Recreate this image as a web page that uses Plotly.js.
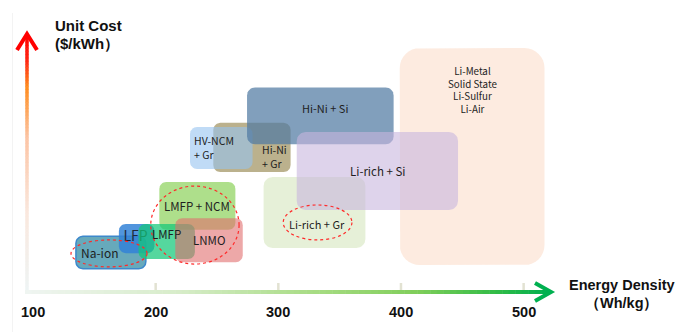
<!DOCTYPE html>
<html><head><meta charset="utf-8">
<script src="https://cdn.plot.ly/plotly-3.0.1.min.js"></script>
<style>html,body{margin:0;padding:0;background:#fff;}#chart{width:682px;height:332px;}</style>
</head><body><div id="chart"></div>
<script>
// ---------------- DATA ----------------
const technologies = ['Li-Metal', 'Li-rich + Gr', 'Hi-Ni + Gr', 'HV-NCM + Gr', 'Hi-Ni + Si', 'Li-rich + Si', 'LMFP + NCM', 'Na-ion', 'LFP', 'LMFP', 'LNMO'];
const densityMin = [399, 288, 247, 228, 274.5, 315, 203, 135, 170, 186, 216];
const densityMax = [517, 371, 310, 279, 394, 446.5, 265, 192, 199, 232, 271];
const costMin = [10.4, 17, 46.3, 47.5, 57, 31.7, 24, 9, 15, 12.7, 11.5];
const costMax = [94.2, 44.4, 65.3, 63.7, 79, 61.8, 42.5, 21.5, 26.3, 26.3, 28.5];

const highlighted = ['Na-ion', 'LMFP + NCM / LNMO', 'Li-rich + Gr'];
const hlDensityMin = [131, 196, 304];
const hlDensityMax = [193, 268, 360];
const hlCostMin = [9.7, 10.8, 20.1];
const hlCostMax = [20.1, 40.9, 33.6];

const tickValues = [100, 200, 300, 400, 500];
const tickLabels = ['100', '200', '300', '400', '500'];
const frontierLines = ['Li-Metal', 'Solid State', 'Li-Sulfur', 'Li-Air'];

// ---------------- STYLE / LAYOUT ----------------
const W = 682, H = 332;
const xr = [73.1, 629.1], yr = [-15.44, 112.74];
const kx = W / (xr[1] - xr[0]), ky = H / (yr[1] - yr[0]);
const fills = {
  'Li-Metal': 'rgba(253,232,218,0.85)',
  'Li-rich + Gr': 'rgba(214,230,190,0.6)',
  'Hi-Ni + Gr': 'rgba(150,135,80,0.65)',
  'HV-NCM + Gr': 'rgba(150,195,240,0.6)',
  'Hi-Ni + Si': 'rgba(80,122,162,0.72)',
  'Li-rich + Si': 'rgba(200,182,222,0.6)',
  'LMFP + NCM': 'rgba(140,210,90,0.7)',
  'Na-ion': 'rgba(70,150,172,0.82)',
  'LFP': 'rgba(50,130,215,0.85)',
  'LMFP': 'rgba(20,200,120,0.72)',
  'LNMO': 'rgba(225,110,110,0.6)'
};
const radius = {'Li-Metal': 20, 'Li-rich + Gr': 9, 'Hi-Ni + Si': 8, 'Li-rich + Si': 9};
const edge = {'Na-ion': {color: '#3d88cc', width: 1.5}};
const boxFont = 'Noto Sans CJK SC, Noto Sans, sans-serif';
const axisFont = 'Liberation Sans, Arial, sans-serif';
const txt = '#1e1e1e';
// label anchors (data units): [x, y, size, xanchor]
const labelPos = {
  'Na-ion': [154.6, 15.4, 12, 'center'],
  'LMFP': [209.2, 22.4, 11.5, 'center'],
  'LNMO': [243.5, 20.1, 11.5, 'center'],
  'LMFP + NCM': [233.7, 33.2, 11.5, 'center'],
  'Hi-Ni + Si': [338.1, 71.0, 11, 'center'],
  'Li-rich + Si': [380.5, 46.7, 11.5, 'center'],
  'Li-rich + Gr': [331.5, 26.25, 11, 'center'],
  'HV-NCM<br>+ Gr': [229.4, 55.8, 10.5, 'left'],
  'Hi-Ni<br>+ Gr': [284.9, 52.3, 10.5, 'left']
};

function roundedRect(x0, x1, y0, y1, rPx) {
  const rx = rPx / kx, ry = rPx / ky;
  const xs = [], ys = [];
  const corners = [[x1 - rx, y1 - ry, 0], [x0 + rx, y1 - ry, 90], [x0 + rx, y0 + ry, 180], [x1 - rx, y0 + ry, 270]];
  corners.forEach(([cx, cy, a0]) => {
    for (let i = 0; i <= 8; i++) {
      const a = (a0 + i * 90 / 8) * Math.PI / 180;
      xs.push(cx + rx * Math.cos(a)); ys.push(cy + ry * Math.sin(a));
    }
  });
  xs.push(xs[0]); ys.push(ys[0]);
  return {xs, ys};
}

const traces = [];
technologies.forEach((t, i) => {
  const r = roundedRect(densityMin[i], densityMax[i], costMin[i], costMax[i], radius[t] || 7);
  traces.push({
    type: 'scatter', mode: 'lines', x: r.xs, y: r.ys, fill: 'toself', fillcolor: fills[t],
    line: edge[t] ? {color: edge[t].color, width: edge[t].width} : {width: 0, color: 'rgba(0,0,0,0)'},
    hoverinfo: 'skip', showlegend: false, name: t
  });
  if (t === 'LFP') {
    traces.push({type: 'scatter', mode: 'text', x: [183.6], y: [21.2], text: ['LFP'],
      textfont: {family: boxFont, size: 14, color: '#1f2a3a'}, hoverinfo: 'skip', showlegend: false});
  }
});

const shapes = [];
highlighted.forEach((h, i) => {
  shapes.push({type: 'circle', xref: 'x', yref: 'y', x0: hlDensityMin[i], x1: hlDensityMax[i], y0: hlCostMin[i], y1: hlCostMax[i],
    line: {color: '#ff2a2a', width: 1.2, dash: 'dot'}, layer: 'above'});
});
const px = p => p / W, py = p => 1 - p / H;
function lerpColor(stops, t) {
  for (let i = 0; i < stops.length - 1; i++) {
    const [t0, c0] = stops[i], [t1, c1] = stops[i + 1];
    if (t >= t0 && t <= t1) {
      const f = (t - t0) / (t1 - t0);
      const c = c0.map((v, k) => Math.round(v + (c1[k] - v) * f));
      return `rgb(${c[0]},${c[1]},${c[2]})`;
    }
  }
  const c = stops[stops.length - 1][1]; return `rgb(${c[0]},${c[1]},${c[2]})`;
}
shapes.push({type: 'line', xref: 'paper', yref: 'paper', x0: px(12.5), x1: px(12.5), y0: py(13), y1: py(332), line: {color: '#f3f3f3', width: 1}});
const gStops = [[0, [240, 245, 242]], [0.3, [214, 236, 200]], [0.55, [168, 220, 132]], [0.75, [128, 206, 90]], [0.9, [50, 188, 70]], [1, [0, 176, 80]]];
const hx0 = 25, hx1 = 548, hy = 292, N = 80;
for (let i = 0; i < N; i++) {
  const a = hx0 + (hx1 - hx0) * i / N, b = hx0 + (hx1 - hx0) * (i + 1) / N + 0.5;
  shapes.push({type: 'line', xref: 'paper', yref: 'paper', x0: px(a), x1: px(b), y0: py(hy), y1: py(hy),
    line: {color: lerpColor(gStops, (i + 0.5) / N), width: 4}});
}
const vStops = [[0, [238, 244, 244]], [0.3, [250, 232, 222]], [0.6, [252, 196, 164]], [0.8, [255, 140, 30]], [0.9, [255, 40, 20]], [1, [255, 0, 0]]];
const vx = 27, vy0 = 290, vy1 = 36;
for (let i = 0; i < N; i++) {
  const a = vy0 + (vy1 - vy0) * i / N, b = vy0 + (vy1 - vy0) * (i + 1) / N - 0.5;
  shapes.push({type: 'line', xref: 'paper', yref: 'paper', x0: px(vx), x1: px(vx), y0: py(a), y1: py(b),
    line: {color: lerpColor(vStops, (i + 0.5) / N), width: 3.5}});
}
shapes.push({type: 'path', xref: 'paper', yref: 'paper',
  path: `M ${px(535)} ${py(283)} L ${px(551)} ${py(292)} L ${px(535)} ${py(301)}`, line: {color: '#00b050', width: 4}});
shapes.push({type: 'path', xref: 'paper', yref: 'paper',
  path: `M ${px(17)} ${py(50)} L ${px(27)} ${py(34)} L ${px(37)} ${py(50)}`, line: {color: '#ff0000', width: 4}});
tickValues.slice(1).forEach(v => {
  shapes.push({type: 'line', xref: 'x', yref: 'paper', x0: v, x1: v, y0: py(292), y1: py(283), line: {color: '#e2e2d2', width: 2.5}, layer: 'below'});
});

const annotations = [];
Object.keys(labelPos).forEach(k => {
  const [x, y, s, xa] = labelPos[k];
  annotations.push({xref: 'x', yref: 'y', x, y, text: k, showarrow: false, xanchor: xa, yanchor: 'middle', align: 'left',
    font: {family: boxFont, size: s, color: txt}});
});
annotations.push({xref: 'x', yref: 'y', x: 457.9, y: 78.0, text: frontierLines.join('<br>'), showarrow: false,
  xanchor: 'center', yanchor: 'middle', align: 'center', font: {family: boxFont, size: 9.8, color: txt}});
tickValues.forEach((v, i) => {
  annotations.push({xref: 'x', yref: 'paper', x: v, y: py(312), text: tickLabels[i], showarrow: false, xanchor: 'center', yanchor: 'middle',
    font: {family: axisFont, size: 14.5, color: '#111', weight: 'bold'}});
});
const ttl = (text, x, y, xa, size) => ({xref: 'paper', yref: 'paper', x: px(x), y: py(y), xanchor: xa, yanchor: 'middle', text, showarrow: false,
  font: {family: axisFont, size, color: '#111', weight: 'bold'}});
annotations.push(ttl('Unit Cost', 53, 26, 'left', 15));
annotations.push(ttl('($/kWh\uFF09', 53, 44, 'left', 15));
annotations.push(ttl('Energy Density', 622, 285, 'center', 14.5));
annotations.push(ttl('\uFF08Wh/kg\uFF09', 622, 303, 'center', 14.5));

const layout = {
  width: W, height: H, margin: {l: 0, r: 0, t: 0, b: 0},
  paper_bgcolor: '#fff', plot_bgcolor: '#fff',
  xaxis: {range: xr, visible: false, fixedrange: true},
  yaxis: {range: yr, visible: false, fixedrange: true},
  shapes, annotations, showlegend: false
};
Plotly.newPlot('chart', traces, layout, {staticPlot: true, displayModeBar: false});
</script></body></html>
